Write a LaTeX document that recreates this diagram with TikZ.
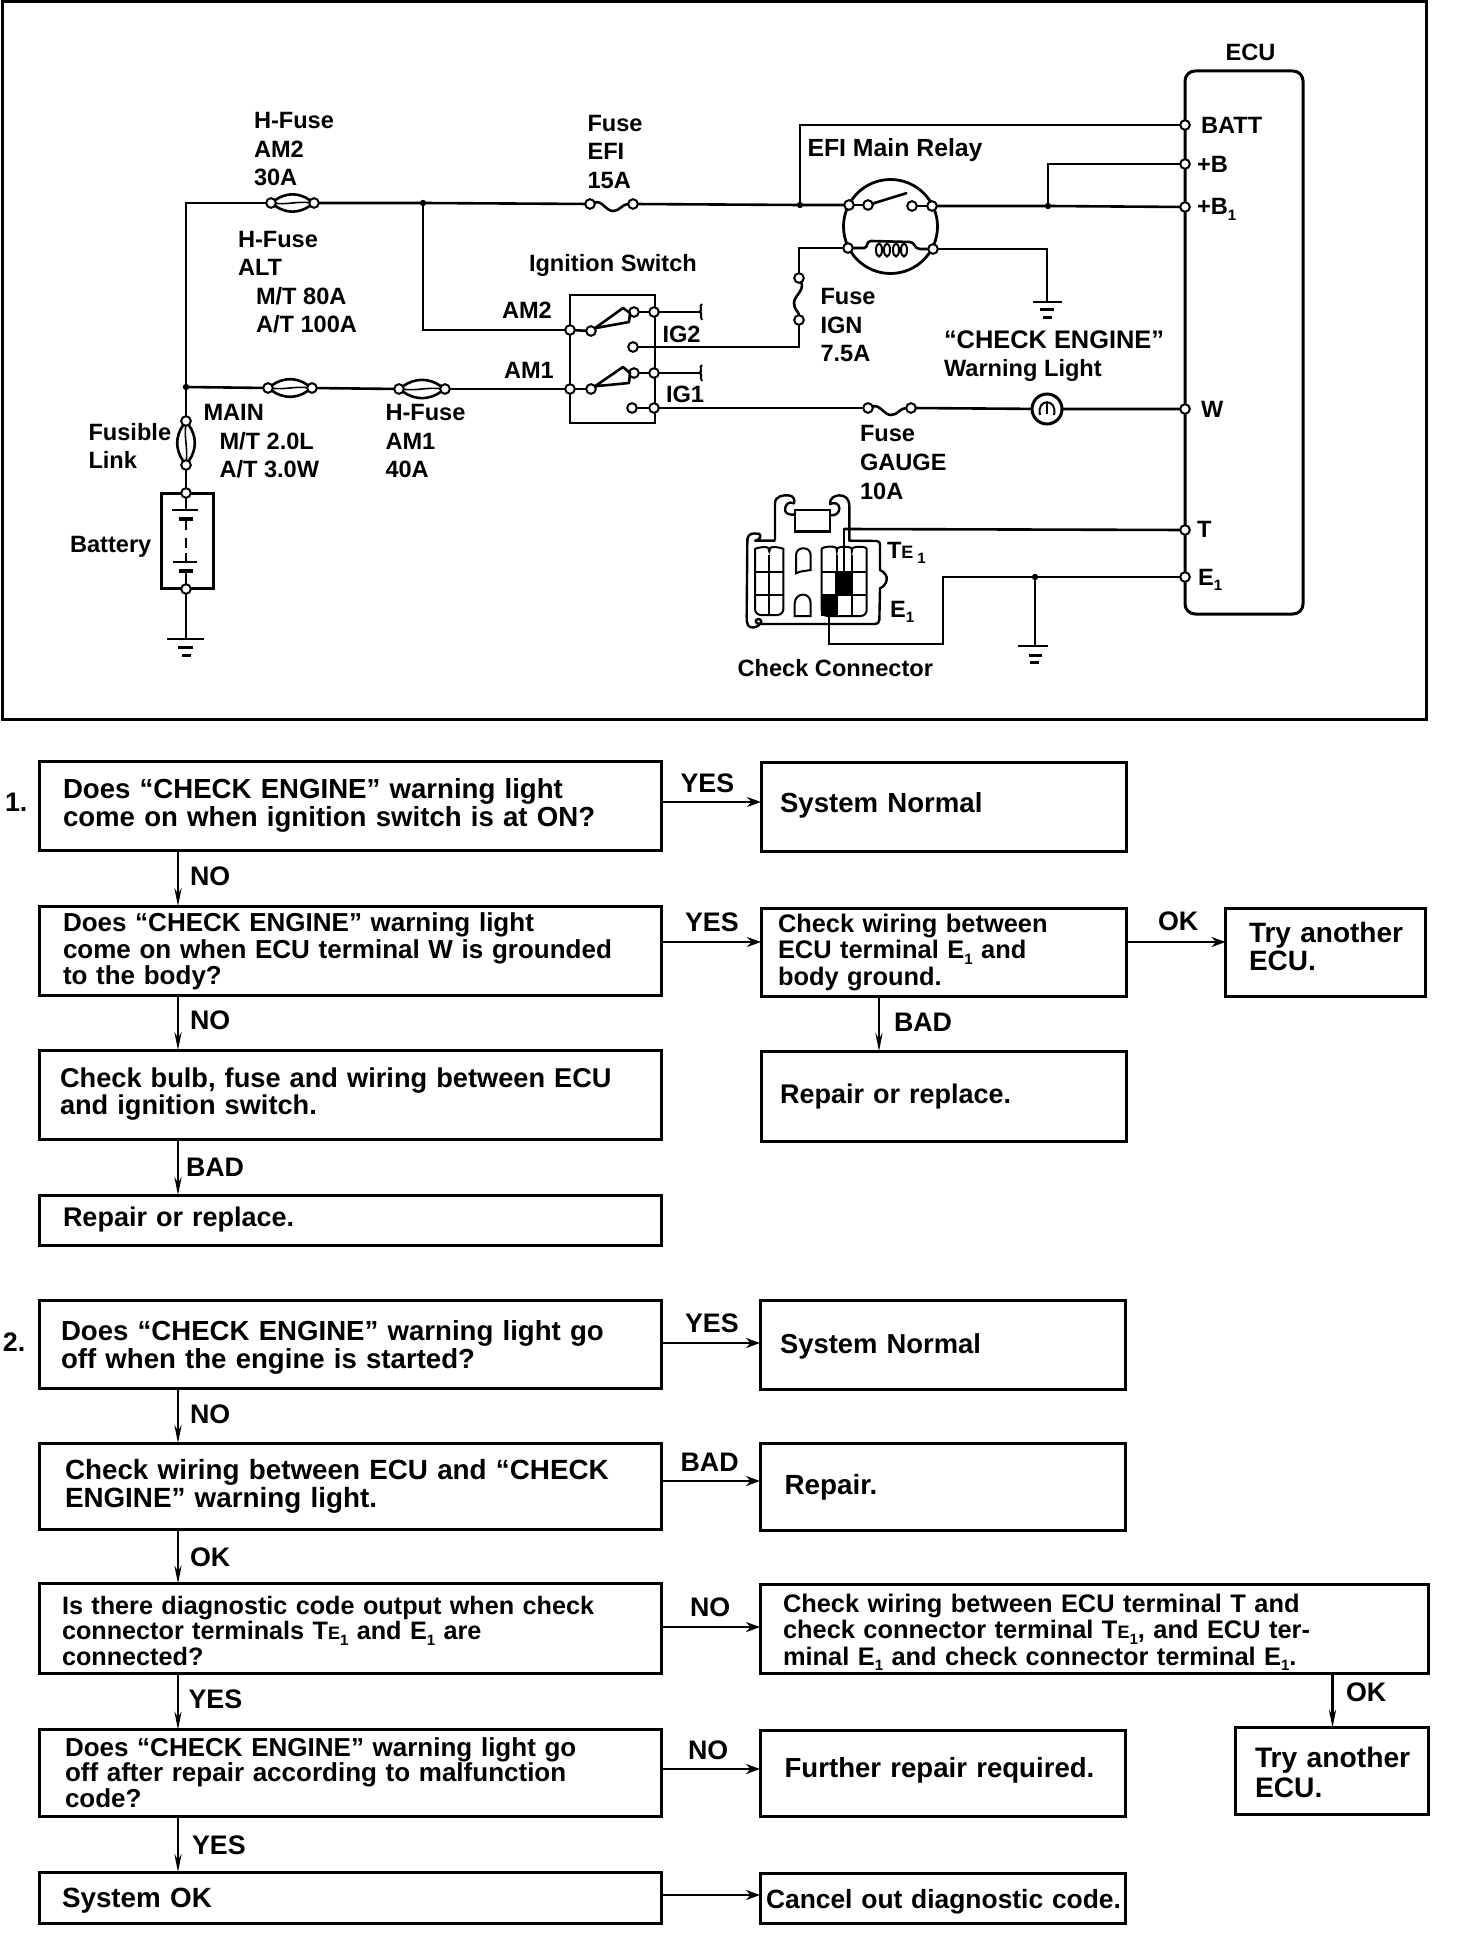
\documentclass[tikz,border=0pt]{standalone}
\usepackage{fontspec}
\setmainfont{Liberation Sans}
\usetikzlibrary{arrows.meta}
\pgfdeclarelayer{wires}
\pgfsetlayers{wires,main}
\newcommand\flowfont[2]{\bfseries\fontsize{#1}{#2}\selectfont\lineskiplimit=-30pt\relax}
\newcommand\labfont{\bfseries\fontsize{11.8}{14.25}\selectfont\lineskiplimit=-30pt\relax}
\newcommand\subone{\raisebox{-0.22em}{\fontsize{7.5}{7.5}\selectfont 1}}
\newcommand\smallE{{\fontsize{9}{9}\selectfont E}}
\tikzset{
  flow/.style={draw,line width=1.5pt,anchor=north west,inner ysep=0pt,outer sep=0pt,align=left},
  lsp/.style 2 args={font=\flowfont{#1}{#2}},
  lab/.style={anchor=base west,inner sep=0pt,outer sep=0pt,align=left,font=\labfont},
  flab/.style={anchor=base west,inner sep=0pt,outer sep=0pt,font=\flowfont{13.4}{14}},
  wire/.style={line width=1.3pt},
  arr/.style={line width=1.4pt,-{Stealth[length=7pt,width=5pt]}},
  varr/.style={line width=1.1pt,-{Stealth[length=9pt,width=3.6pt]}},
  term/.style={circle,draw,fill=white,line width=1pt,minimum size=4.8pt,inner sep=0pt,outer sep=0pt},
  dot/.style={circle,fill=black,minimum size=3.2pt,inner sep=0pt,outer sep=0pt},
  part/.style={draw,line width=1.3pt,anchor=north west,inner sep=0pt,outer sep=0pt},
  cell/.style={line width=1pt},
}
\begin{document}
\begin{tikzpicture}[x=0.5pt,y=-0.5pt]
\useasboundingbox (0,0) rectangle (1456,1936);
\draw[line width=1.5pt] (2,2) rectangle (1426,719);

% ---------- schematic parts
\node[part,line width=1.5pt,rounded corners=5pt,minimum width=59pt,minimum height=271.5pt] (ecu) at (1185,71) {};
\node[part,minimum width=42.5pt,minimum height=64pt] (swbox) at (570,295) {};
\node[part,line width=1.5pt,minimum width=26pt,minimum height=47.5pt] (batbox) at (161,493) {};
\node[circle,draw,line width=1.4pt,minimum size=47pt,inner sep=0pt,outer sep=0pt] (relay) at (890.5,226.5) {};
\node[circle,draw,fill=white,line width=1.5pt,minimum size=15pt,inner sep=0pt,outer sep=0pt] (lamp) at (1047,409) {};

% ECU terminals
\node[term] (tBATT) at (1185,125) {};
\node[term] (tB) at (1185,164) {};
\node[term] (tBone) at (1185,207) {};
\node[term] (tW) at (1185,409) {};
\node[term] (tT) at (1185,530) {};
\node[term] (tEone) at (1185,577) {};
% relay terminals
\node[term] (rTL) at (849,205) {};
\node[term] (rTR) at (932,206) {};
\node[term] (rBL) at (848,248) {};
\node[term] (rBR) at (933,249) {};
\node[term] (rC1) at (868,205) {};
\node[term] (rC2) at (912,206) {};
% switch terminals
\node[term] (sA) at (570,330) {};
\node[term] (sB) at (570,389) {};
\node[term] (sC1) at (654,312) {};
\node[term] (sC2) at (654,373) {};
\node[term] (sC3) at (654,408) {};
\node[term] (sP1) at (591,331) {};
\node[term] (sP2) at (591,389) {};
\node[term] (sI1) at (634,312) {};
\node[term] (sI2) at (633,347) {};
\node[term] (sI3) at (634,373) {};
\node[term] (sI4) at (632,408) {};
% fuses
\node[term] (am2a) at (271,203) {};
\node[term] (am2b) at (314,203) {};
\node[term] (efia) at (590,204) {};
\node[term] (efib) at (633,204) {};
\node[term] (ma) at (268,388) {};
\node[term] (mb) at (312,388) {};
\node[term] (ama) at (399,389) {};
\node[term] (amb) at (445,389) {};
\node[term] (iga) at (799,278) {};
\node[term] (igb) at (799,320) {};
\node[term] (gaa) at (868,408) {};
\node[term] (gab) at (911,408) {};
\node[term] (fla) at (186,421) {};
\node[term] (flb) at (186,465) {};
\node[term] (bTop) at (186,493) {};
\node[term] (bBot) at (186,589) {};
% junctions
\node[dot] (j1) at (423,203) {};
\node[dot] (j2) at (186,387) {};
\node[dot] (j3) at (800,205) {};
\node[dot] (j4) at (1048,206) {};
\node[dot] (j5) at (1035,577) {};
% bends and free ends
\coordinate (c0) at (186,203);
\coordinate (c1) at (423,330);
\coordinate (c2) at (800,125);
\coordinate (c3) at (1048,164);
\coordinate (c4) at (799,248);
\coordinate (c5) at (799,347);
\coordinate (g1) at (1047,302);
\coordinate (c6) at (1047,249);
\coordinate (g2) at (186,639);
\coordinate (g3) at (1035,646);
\coordinate (s1) at (699,312);
\coordinate (s2) at (699,373);
\coordinate (ct) at (844,529);
\coordinate (ce1) at (829,644);
\coordinate (ce2) at (943,644);
\coordinate (ce3) at (943,577);
\coordinate (ce0) at (829,616);

\begin{pgfonlayer}{wires}
\draw[wire] (j2) -- (c0) -- (am2a);
\draw[wire] (am2b) -- (j1) -- (efia);
\draw[wire] (efib) -- (j3) -- (rTL);
\draw[wire] (j1) -- (c1) -- (sA);
\draw[wire] (j3) -- (c2) -- (tBATT);
\draw[wire] (rTL) -- (rC1);
\draw[wire] (rC2) -- (rTR);
\draw[wire] (rTR) -- (j4) -- (tBone);
\draw[wire] (j4) -- (c3) -- (tB);
\draw[wire] (rBL) -- (c4) -- (iga);
\draw[wire] (igb) -- (c5) -- (sI2);
\draw[wire] (rBR) -- (c6) -- (g1);
\draw[wire] (j2) -- (ma);
\draw[wire] (mb) -- (ama);
\draw[wire] (amb) -- (sB);
\draw[wire] (sA) -- (sP1);
\draw[wire] (sB) -- (sP2);
\draw[wire] (sI1) -- (sC1) -- (s1);
\draw[wire] (sI3) -- (sC2) -- (s2);
\draw[wire] (sI4) -- (sC3) -- (gaa);
\draw[wire] (gab) -- (lamp) -- (tW);
\draw[wire] (j2) -- (fla);
\draw[wire] (flb) -- (bTop);
\draw[wire] (bTop) -- (186,510);
\draw[wire] (bBot) -- (g2);
\draw[wire] (ct) -- (tT);
\draw[wire] (ce0) -- (ce1) -- (ce2) -- (ce3) -- (tEone);
\draw[wire] (j5) -- (g3);
\end{pgfonlayer}

% fuse bodies
\draw[wire] (am2a) to[out=35,in=145] (am2b);
\draw[wire] (am2a) to[out=-35,in=-145] (am2b);
\draw[line width=.8pt] (am2a) to[out=-5,in=175] (am2b);
\draw[wire] (ma) to[out=35,in=145] (mb);
\draw[wire] (ma) to[out=-35,in=-145] (mb);
\draw[line width=.8pt] (ma) to[out=-5,in=175] (mb);
\draw[wire] (ama) to[out=35,in=145] (amb);
\draw[wire] (ama) to[out=-35,in=-145] (amb);
\draw[line width=.8pt] (ama) to[out=-5,in=175] (amb);
\draw[wire] (fla) to[out=-125,in=125] (flb);
\draw[wire] (fla) to[out=-55,in=55] (flb);
\draw[line width=.8pt] (fla) to[out=-95,in=85] (flb);
\draw[wire] (efia) .. controls (602,200) and (606,211) .. (613,211) .. controls (620,211) and (622,204) .. (efib);
\draw[wire] (gaa) .. controls (880,404) and (884,415) .. (891,415) .. controls (898,415) and (900,408) .. (gab);
\draw[wire] (iga) .. controls (805,290) and (794,296) .. (794,303) .. controls (794,310) and (799,312) .. (igb);

% relay inside
\draw[wire] (rC1) -- (907,193);
\draw[wire] (rBL) -- (864,248) .. controls (868,248) and (866,241) .. (871,241) -- (910,242) .. controls (915,242) and (914,249) .. (920,249) -- (rBR);
\foreach \cx in {879,887,896,904} \draw[line width=1pt,fill=white] (\cx,250) ellipse (3 and 6.5);

% switch arms
\draw[wire,line join=round] (sP1) -- (623,308) -- (630,313) -- (629,322) -- cycle;
\draw[wire,line join=round] (sP2) -- (623,367) -- (630,373) -- (629,383) -- cycle;
\draw[line width=1pt] (s1) .. controls (704,311) and (698,306) .. (702,304);
\draw[line width=1pt] (s1) .. controls (704,313) and (699,316) .. (702,320);
\draw[line width=1pt] (s2) .. controls (704,372) and (698,367) .. (702,365);
\draw[line width=1pt] (s2) .. controls (704,374) and (699,377) .. (702,381);

% lamp inside
\draw[line width=1pt] (1040,415) .. controls (1036,398) and (1058,398) .. (1054,415);
\draw[line width=1pt] (1047,402) -- (1047,414);

% battery cells
\draw[wire] (172,510) -- (198,510);
\draw[line width=1.6pt] (179,519) -- (193,519);
\draw[wire] (186,519) -- (186,530);
\draw[wire] (186,538) -- (186,548);
\draw[wire] (186,553) -- (186,562);
\draw[wire] (173,562) -- (197,562);
\draw[line width=1.6pt] (179,571) -- (193,571);
\draw[wire] (186,571) -- (bBot);

% grounds
\draw[wire] (167,639) -- (204,639);
\draw[line width=1.5pt] (178,647) -- (193,647);
\draw[line width=1.5pt] (182,655) -- (191,655);
\draw[wire] (1033,302) -- (1062,302);
\draw[line width=1.5pt] (1040,310) -- (1054,310);
\draw[line width=1.5pt] (1043,317.5) -- (1052,317.5);
\draw[wire] (1018,646) -- (1048,646);
\draw[line width=1.5pt] (1029,655) -- (1042,655);
\draw[line width=1.5pt] (1030,662.5) -- (1039,662.5);

% check connector (coordinates of a 3x enlargement)
\begin{scope}[shift={(720,480)},x=0.16667pt,y=-0.16667pt]
\draw[line width=1.2pt,line join=round] (165,182) -- (165,70) .. controls (165,48) and (190,45) .. (205,46)
  .. controls (222,47) and (225,60) .. (222,70) .. controls (205,62) and (195,75) .. (195,90)
  .. controls (196,102) and (210,105) .. (225,104);
\draw[line width=1.2pt,line join=round] (330,106) .. controls (345,108) and (358,100) .. (358,85)
  .. controls (358,72) and (345,65) .. (330,72) .. controls (328,55) and (345,46) .. (358,46)
  .. controls (375,46) and (388,55) .. (388,80) -- (388,182) -- (470,183) .. controls (478,183) and (480,188) .. (480,195)
  -- (480,270) .. controls (495,278) and (502,288) .. (500,300) .. controls (498,312) and (490,320) .. (480,325)
  -- (478,420) .. controls (478,428) and (472,432) .. (465,432) -- (125,432) .. controls (112,432) and (105,428) .. (108,420)
  .. controls (118,412) and (128,422) .. (122,430) .. controls (115,442) and (90,448) .. (84,436)
  .. controls (80,430) and (80,420) .. (80,410) -- (82,178) .. controls (84,160) and (100,158) .. (118,162)
  .. controls (126,166) and (118,182) .. (105,182) -- (165,182);
\draw[line width=1.2pt] (225,90) rectangle (330,155);
\draw[cell,rounded corners=3pt] (105,405) -- (105,225) .. controls (105,205) and (145,195) .. (148,225) .. controls (150,195) and (190,205) .. (190,225) -- (190,405) -- cycle;
\draw[cell] (148,225) -- (148,405) (105,275) -- (190,275) (105,345) -- (190,345);
\draw[cell] (228,280) -- (228,225) .. controls (228,198) and (272,198) .. (272,225) -- (272,270) -- (240,275) -- cycle;
\draw[cell] (224,408) -- (224,370) .. controls (226,335) and (272,335) .. (272,370) -- (272,408) -- cycle;
\draw[cell,rounded corners=3pt] (305,408) -- (305,225) .. controls (305,200) and (350,195) .. (350,225) .. controls (352,198) and (395,198) .. (395,225) .. controls (397,198) and (440,198) .. (440,225) -- (440,408) -- cycle;
\draw[cell] (350,225) -- (350,408) (395,225) -- (395,408) (305,275) -- (440,275) (305,345) -- (440,345);
\fill (345,275) rectangle (398,345);
\fill (303,345) rectangle (350,408);
\draw[line width=.9pt] (372,275) -- (372,148) -- (388,148);
\end{scope}

% ---------- schematic labels
\node[lab] (lAM2f) at (254,186) {H-Fuse\\AM2\\30A};
\node[lab] (lEFI) at (587.5,188.5) {Fuse\\EFI\\15A};
\node[lab] (lALT) at (238,333) {H-Fuse\\ALT\\\hspace*{9pt}M/T 80A\\\hspace*{9pt}A/T 100A};
\node[lab] (lIgn) at (529,272) {Ignition Switch};
\node[lab] (lAM2) at (502,319) {AM2};
\node[lab] (lAM1) at (504,379) {AM1};
\node[lab] (lIG2) at (662.5,343) {IG2};
\node[lab] (lIG1) at (666,403) {IG1};
\node[lab] (lMain) at (203.5,478) {MAIN\\\hspace*{8pt}M/T 2.0L\\\hspace*{8pt}A/T 3.0W};
\node[lab] (lAM1f) at (385.5,478) {H-Fuse\\AM1\\40A};
\node[lab] (lFus) at (88.5,469) {Fusible\\Link};
\node[lab] (lBat) at (70,552) {Battery};
\node[lab] (lECU) at (1225.5,60.5) {ECU};
\node[lab] (lBATT) at (1201,134) {BATT};
\node[lab] (lB) at (1197,173) {+B};
\node[lab] (lBone) at (1197,215) {+B\subone};
\node[lab,font=\flowfont{12.4}{14.25}] (lRelay) at (807.5,157) {EFI Main Relay};
\node[lab] (lIGN) at (820.5,362) {Fuse\\IGN\\7.5A};
\node[lab] (lCE) at (944,377) {{\fontsize{12.7}{14.25}\selectfont “CHECK ENGINE”}\\Warning Light};
\node[lab] (lW) at (1201,417.6) {W};
\node[lab] (lGauge) at (860,499) {Fuse\\GAUGE\\10A};
\node[lab] (lT) at (1197,538) {T};
\node[lab] (lEo) at (1198,585.6) {E\subone};
\node[lab] (lTE) at (887,558) {T\smallE\,\subone};
\node[lab] (lEc) at (890,617) {E\subone};
\node[lab] (lCheck) at (737.6,676) {Check Connector};

% ---------- flow chart 1
\node[flab] (n1) at (5,811) {1.};
\node[flow,lsp={13.8}{14},inner xsep=12pt,text width=287pt,text height=18.5pt,text depth=26pt] (A1) at (39,761) {Does “CHECK ENGINE” warning light\\come on when ignition switch is at ON?};
\node[flow,lsp={13.8}{14},inner xsep=9.5pt,text width=163.5pt,text height=25.3pt,text depth=19.2pt] (A1y) at (761,762) {System Normal};
\node[flow,lsp={13}{13.25},inner xsep=12pt,text width=287pt,text height=12.75pt,text depth=31.75pt] (A2) at (39,906) {Does “CHECK ENGINE” warning light\\come on when ECU terminal W is grounded\\to the body?};
\node[flow,lsp={12.7}{13.25},inner xsep=8.5pt,text width=165.5pt,text height=12pt,text depth=32pt] (A2y) at (761,908) {Check wiring between\\ECU terminal E\subone{} and\\body ground.};
\node[flow,lsp={14}{13.75},inner xsep=11.75pt,text width=76.25pt,text height=17.25pt,text depth=26.75pt] (A2e) at (1225.5,908) {\mbox{Try another}\\ECU.};
\node[flow,lsp={13.6}{13.5},inner xsep=10.5pt,text width=290pt,text height=18.5pt,text depth=26pt] (A3) at (39,1050) {Check bulb, fuse and wiring between ECU\\and ignition switch.};
\node[flow,lsp={13.5}{14},inner xsep=9.5pt,text width=163.5pt,text height=26.3pt,text depth=18.7pt] (A3r) at (761,1051) {Repair or replace.};
\node[flow,lsp={13.5}{14},inner xsep=12pt,text width=287pt,text height=15.5pt,text depth=9.5pt] (A4) at (39,1195) {Repair or replace.};

\draw[arr] ([yshift=1.75pt]A1.east) -- ([yshift=1.75pt]A1.east -| A1y.west);
\draw[arr] ([yshift=4.25pt]A2.east) -- ([yshift=4.25pt]A2.east -| A2y.west);
\draw[arr] ([yshift=5pt]A2y.east) -- ([yshift=5pt]A2y.east -| A2e.west);
\draw[varr] ([xshift=69.5pt]A1.south west) -- ([xshift=69.5pt]A2.north west);
\draw[varr] ([xshift=69.5pt]A2.south west) -- ([xshift=69.5pt]A3.north west);
\draw[varr] ([xshift=69.5pt]A3.south west) -- ([xshift=69.5pt]A4.north west);
\draw[varr] ([xshift=59pt]A2y.south west) -- ([xshift=59pt]A3r.north west);

\node[flab] (la1) at (680.6,792) {YES};
\node[flab] (la2) at (190,885.6) {NO};
\node[flab] (la3) at (685,931.5) {YES};
\node[flab] (la4) at (1158,930) {OK};
\node[flab] (la5) at (190,1029.6) {NO};
\node[flab] (la6) at (894,1031) {BAD};
\node[flab] (la7) at (186,1176) {BAD};

% ---------- flow chart 2
\node[flab] (n2) at (3,1351.6) {2.};
\node[flow,lsp={13.8}{14.25},inner xsep=11pt,text width=289pt,text height=20pt,text depth=24pt] (B1) at (39,1300) {Does “CHECK ENGINE” warning light go\\off when the engine is started?};
\node[flow,lsp={13.7}{14},inner xsep=10pt,text width=162.5pt,text height=26.5pt,text depth=18pt] (B1y) at (760,1300) {System Normal};
\node[flow,lsp={13.9}{13.8},inner xsep=13pt,text width=285pt,text height=18.2pt,text depth=24.8pt] (B2) at (39,1443) {Check wiring between ECU and “CHECK\\ENGINE” warning light.};
\node[flow,lsp={13.9}{14},inner xsep=12.3pt,text width=157.9pt,text height=25.5pt,text depth=18pt] (B2y) at (760,1443) {Repair.};
\node[flow,lsp={12.6}{12.75},inner xsep=11.5pt,text width=288pt,text height=15.25pt,text depth=29.5pt] (B3) at (39,1583.5) {Is there diagnostic code output when check\\connector terminals T\smallE\subone{} and E\subone{} are\\connected?};
\node[flow,lsp={12.7}{13.25},inner xsep=11.5pt,text width=311pt,text height=14pt,text depth=30.5pt] (B3y) at (760,1584) {Check wiring between ECU terminal T and\\check connector terminal T\smallE\subone, and ECU ter-\\minal E\subone{} and check connector terminal E\subone.};
\node[flow,lsp={14.1}{15},inner xsep=10pt,text width=76.5pt,text height=19.75pt,text depth=23.8pt] (B3e) at (1235,1727.5) {\mbox{Try another}\\ECU.};
\node[flow,lsp={13}{12.75},inner xsep=13pt,text width=285pt,text height=13.4pt,text depth=29.8pt] (B4) at (39,1729.6) {Does “CHECK ENGINE” warning light go\\off after repair according to malfunction\\code?};
\node[flow,lsp={13.8}{14},inner xsep=12.3pt,text width=157.9pt,text height=23.8pt,text depth=19.2pt] (B4y) at (760,1730) {\mbox{Further repair required.}};
\node[flow,lsp={13.9}{14},inner xsep=11.5pt,text width=288pt,text height=17.5pt,text depth=8pt] (B5) at (39,1872) {System OK};
\node[flow,lsp={13.2}{14},inner xsep=3pt,text width=176.5pt,text height=17.5pt,text depth=7.5pt] (B5y) at (760,1873) {\mbox{Cancel out diagnostic code.}};

\draw[arr] ([yshift=.5pt]B1.east) -- ([yshift=.5pt]B1.east -| B1y.west);
\draw[arr] ([yshift=2.5pt]B2.east) -- ([yshift=2.5pt]B2.east -| B2y.west);
\draw[arr] ([yshift=.6pt]B3.east) -- ([yshift=.6pt]B3.east -| B3y.west);
\draw[arr] ([yshift=1.9pt]B4.east) -- ([yshift=1.9pt]B4.east -| B4y.west);
\draw[arr] ([yshift=1.25pt]B5.east) -- ([yshift=1.25pt]B5.east -| B5y.west);
\draw[varr] ([xshift=69.5pt]B1.south west) -- ([xshift=69.5pt]B2.north west);
\draw[varr] ([xshift=69.5pt]B2.south west) -- ([xshift=69.5pt]B3.north west);
\draw[varr] ([xshift=69.5pt]B3.south west) -- ([xshift=69.5pt]B4.north west);
\draw[varr] ([xshift=69.5pt]B4.south west) -- ([xshift=69.5pt]B5.north west);
\draw[varr] ([xshift=286.25pt]B3y.south west) -- ([xshift=48.75pt]B3e.north west);

\node[flab] (lb1) at (685,1332) {YES};
\node[flab] (lb2) at (190,1423) {NO};
\node[flab] (lb3) at (680.6,1471) {BAD};
\node[flab] (lb4) at (190,1566) {OK};
\node[flab] (lb5) at (690,1616) {NO};
\node[flab] (lb6) at (188.5,1708) {YES};
\node[flab] (lb7) at (1346,1701) {OK};
\node[flab] (lb8) at (688,1759) {NO};
\node[flab] (lb9) at (192,1854) {YES};
\end{tikzpicture}
\end{document}
